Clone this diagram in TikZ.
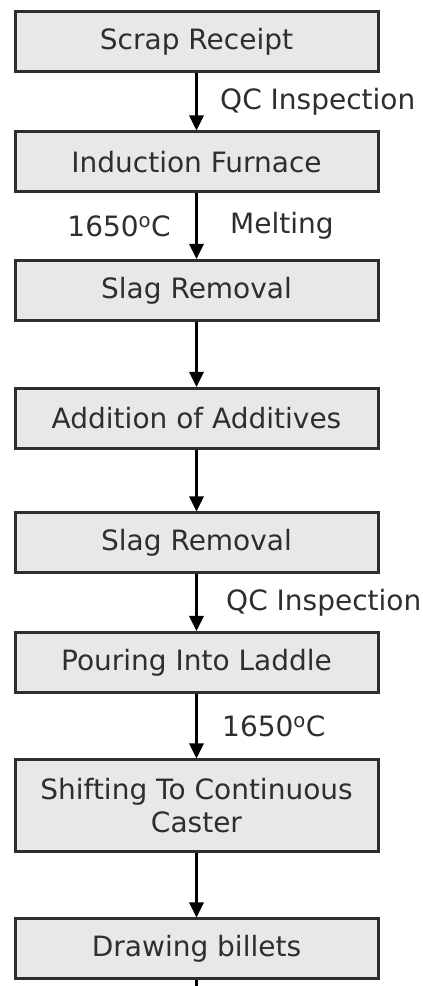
\documentclass[tikz,border=0pt]{standalone}
\usepackage{fontspec}
\setmainfont{DejaVu Sans}
\usetikzlibrary{arrows.meta}
\definecolor{boxgray}{gray}{0.91}
\definecolor{edgegray}{gray}{0.18}

\begin{document}
\begin{tikzpicture}[x=10pt,y=10pt,font=\fontsize{28}{33}\selectfont,
	stage/.style={draw=edgegray,line width=3pt,fill=boxgray,text=edgegray,
		minimum width=363pt,minimum height=60pt,inner sep=0pt,align=center},
	flow/.style={-{Triangle[length=15pt,width=14pt]},line width=2.8pt},
	note/.style={text=edgegray}]
	% fix the frame
	\useasboundingbox (0,0) rectangle (42.3,98.6);
	
	% draw boxes
	\node[stage] (scrap) at (19.65,94.4) {Scrap Receipt};
	\node[stage] (furnace) at (19.65,82.4) {Induction Furnace};
	\node[stage] (slagA) at (19.65,69.55) {Slag Removal};
	\node[stage] (additive) at (19.65,56.75) {Addition of Additives};
	\node[stage] (slagB) at (19.65,44.3) {Slag Removal};
	\node[stage] (ladle) at (19.65,32.35) {Pouring Into Laddle};
	\node[stage,minimum height=92pt] (caster) at (19.65,18.0) {Shifting To Continuous\\Caster};
	\node[stage] (billet) at (19.65,3.7) {Drawing billets};
	\coordinate (tail) at (19.65,0);
	
	% draw arrows
	\draw[flow] (scrap) -- (furnace) node[note,midway,right=19pt] {QC Inspection};
	\draw[flow] (furnace) -- (slagA) node[note,midway,left=21pt] {1650\textsuperscript{o}C}
		node[note,midway,right=29pt] {Melting};
	\draw[flow] (slagA) -- (additive);
	\draw[flow] (additive) -- (slagB);
	\draw[flow] (slagB) -- (ladle) node[note,midway,right=25pt] {QC Inspection};
	\draw[flow] (ladle) -- (caster) node[note,midway,right=21pt] {1650\textsuperscript{o}C};
	\draw[flow] (caster) -- (billet);
	\draw[line width=2.8pt] (billet) -- (tail);
\end{tikzpicture}
\end{document}
